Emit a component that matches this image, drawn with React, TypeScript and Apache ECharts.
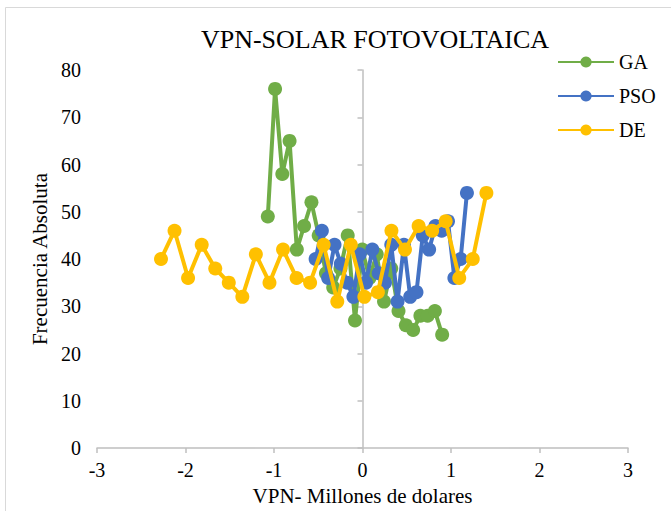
import React, { useEffect, useRef } from "react";
import * as echarts from "echarts";

const gaX = [-1.07, -0.988, -0.906, -0.824, -0.742, -0.66, -0.577, -0.495, -0.413, -0.331, -0.249, -0.167, -0.085, -0.003, 0.079, 0.161, 0.243, 0.325, 0.407, 0.49, 0.572, 0.654, 0.736, 0.818, 0.9];
const gaY = [49, 76, 58, 65, 42, 47, 52, 45, 37, 34, 38, 45, 27, 42, 36, 41, 31, 38, 29, 26, 25, 28, 28, 29, 24];

const psoX = [-0.53, -0.459, -0.388, -0.316, -0.245, -0.174, -0.103, -0.031, 0.04, 0.111, 0.183, 0.254, 0.325, 0.396, 0.468, 0.539, 0.61, 0.681, 0.753, 0.824, 0.895, 0.966, 1.038, 1.109, 1.18];
const psoY = [40, 46, 36, 43, 39, 35, 32, 41, 35, 42, 37, 35, 43, 31, 43, 32, 33, 45, 42, 47, 46, 48, 36, 40, 54];

const deX = [-2.277, -2.124, -1.971, -1.817, -1.664, -1.511, -1.358, -1.205, -1.051, -0.898, -0.745, -0.592, -0.439, -0.285, -0.132, 0.021, 0.174, 0.327, 0.48, 0.634, 0.787, 0.94, 1.093, 1.246, 1.4];
const deY = [40, 46, 36, 43, 38, 35, 32, 41, 35, 42, 36, 35, 43, 31, 43, 32, 33, 46, 42, 47, 46, 48, 36, 40, 54];

const seriesNames = ["GA", "PSO", "DE"];
const colors = ["#70AD47", "#4472C4", "#FFC000"];

const FONT = "Liberation Serif";

function pairs(xs: number[], ys: number[]) {
  return xs.map((x, i) => [x, ys[i]]);
}

export default function App() {
  const ref = useRef<HTMLDivElement>(null);
  useEffect(() => {
    if (!ref.current) return;
    const chart = echarts.init(ref.current, null, { renderer: "svg" });
    const datasets = [pairs(gaX, gaY), pairs(psoX, psoY), pairs(deX, deY)];
    chart.setOption({
      animation: false,
      backgroundColor: "#fff",
      title: {
        text: "VPN-SOLAR FOTOVOLTAICA",
        left: 370,
        top: 21,
        textAlign: "center",
        textStyle: { fontFamily: FONT, fontSize: 26, fontWeight: "normal", color: "#000" },
      },
      legend: {
        orient: "vertical",
        left: 552,
        top: 47,
        itemWidth: 56,
        itemHeight: 14,
        itemGap: 14,
        textStyle: { fontFamily: FONT, fontSize: 20, color: "#000" },
        data: seriesNames,
      },
      graphic: [
        {
          type: "rect",
          shape: { x: 5.5, y: 7.5, width: 800, height: 700 },
          style: { fill: "none", stroke: "#D9D9D9", lineWidth: 1 },
          silent: true,
        },
      ],
      grid: { left: 97, right: 43, top: 70, bottom: 61 },
      xAxis: {
        type: "value",
        min: -3,
        max: 3,
        interval: 1,
        name: "VPN- Millones de dolares",
        nameLocation: "middle",
        nameGap: 36,
        nameTextStyle: { fontFamily: FONT, fontSize: 21, color: "#000" },
        axisLine: { show: true, onZero: false, lineStyle: { color: "#BFBFBF", width: 1.5 } },
        axisTick: { show: true, inside: false, length: 5, lineStyle: { color: "#BFBFBF", width: 1.5 } },
        axisLabel: { fontFamily: FONT, fontSize: 20, color: "#000", margin: 12 },
        splitLine: { show: false },
      },
      yAxis: [
        {
          type: "value",
          min: 0,
          max: 80,
          interval: 10,
          position: "left",
          name: "Frecuencia Absoluta",
          nameLocation: "middle",
          nameGap: 47,
          nameTextStyle: { fontFamily: FONT, fontSize: 21, color: "#000" },
          axisLine: { show: false, onZero: false },
          axisTick: { show: false },
          axisLabel: { fontFamily: FONT, fontSize: 20, color: "#000", margin: 16 },
          splitLine: { show: false },
        },
        {
          type: "value",
          min: 0,
          max: 80,
          interval: 10,
          position: "left",
          axisLine: { show: true, onZero: true, lineStyle: { color: "#BFBFBF", width: 1.5 } },
          axisTick: { show: true, inside: false, length: 5, lineStyle: { color: "#BFBFBF", width: 1.5 } },
          axisLabel: { show: false },
          splitLine: { show: false },
        },
      ],
      series: seriesNames.map((name, i) => ({
        name,
        type: "line",
        yAxisIndex: 0,
        data: datasets[i],
        symbol: "circle",
        symbolSize: 14,
        showSymbol: true,
        color: colors[i],
        lineStyle: { color: colors[i], width: 4 },
        itemStyle: { color: colors[i] },
        z: 2 + i,
      })),
    });
    return () => chart.dispose();
  }, []);
  return (
    <div
      ref={ref}
      style={{ position: "fixed", left: 0, top: 0, width: 671, height: 511 }}
    />
  );
}
